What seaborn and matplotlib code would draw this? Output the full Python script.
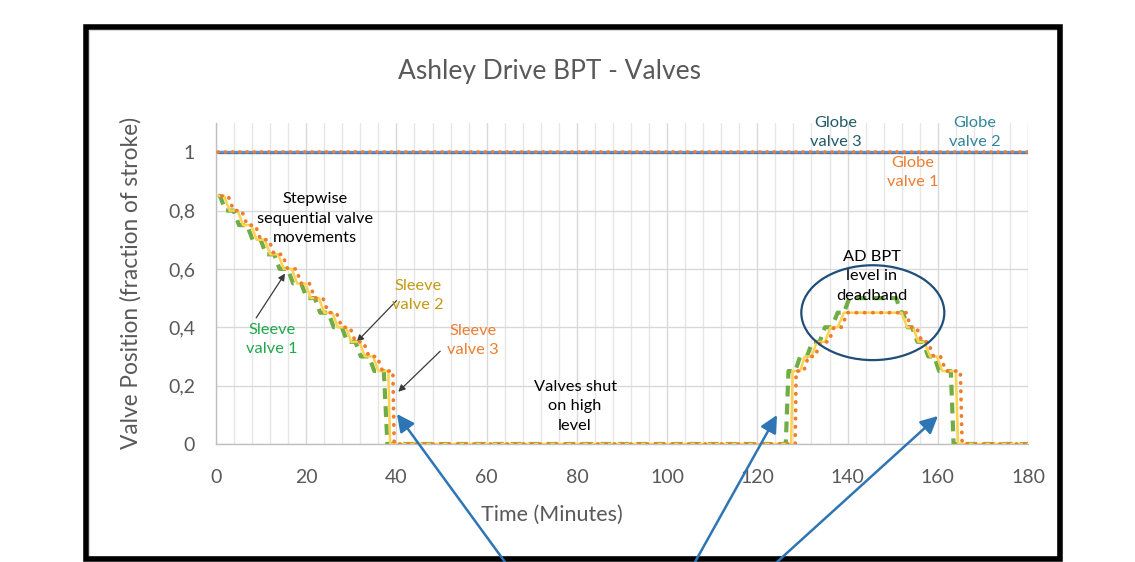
import matplotlib
matplotlib.use("Agg")
import matplotlib.pyplot as plt
import seaborn as sns
import pandas as pd
from matplotlib.patches import Ellipse, Rectangle, FancyArrowPatch
from matplotlib.ticker import MultipleLocator

# ---------------- data ----------------
globe_t = [0.5, 180]
globe1_v = [1.0, 1.0]
globe2_v = [1.0, 1.0]
globe3_v = [1.0, 1.0]

sleeve1_t = [0.5, 0.9, 2.1, 3.9, 5.1, 6.9, 8.1, 9.9, 11.1, 12.9, 14.1, 15.9, 17.1, 18.9,
             20.1, 21.9, 23.1, 24.9, 26.1, 27.9, 29.1, 30.9, 32.1, 33.9, 35.1, 37.2, 38.0,
             126.3, 126.9, 128.4, 129.5, 131.0, 132.2, 133.8, 135.0, 136.5, 137.8, 139.2,
             140.4, 150.8, 151.8, 152.3, 153.3, 154.3, 155.5, 156.7, 157.9, 159.2, 160.3,
             162.9, 163.5, 180]
sleeve1_v = [0.85, 0.85, 0.80, 0.80, 0.75, 0.75, 0.70, 0.70, 0.65, 0.65, 0.60, 0.60, 0.55, 0.55,
             0.50, 0.50, 0.45, 0.45, 0.40, 0.40, 0.35, 0.35, 0.30, 0.30, 0.25, 0.25, 0.0,
             0.0, 0.25, 0.25, 0.30, 0.30, 0.35, 0.35, 0.40, 0.40, 0.45, 0.45,
             0.50, 0.50, 0.45, 0.45, 0.40, 0.40, 0.35, 0.35, 0.30, 0.30, 0.25,
             0.25, 0.0, 0.0]

sleeve2_t = [0.5, 1.8, 3.0, 4.8, 6.0, 7.8, 9.0, 10.8, 12.0, 13.8, 15.0, 16.8, 18.0, 19.8,
             21.0, 22.8, 24.0, 25.8, 27.0, 28.8, 30.0, 31.8, 33.0, 34.8, 36.0, 38.2, 38.6,
             127.5, 127.8, 129.5, 130.5, 132.0, 133.2, 135.0, 136.2, 137.8, 139.2,
             152.0, 153.2, 154.5, 155.7, 157.0, 158.3, 159.8, 161.0, 164.0, 164.5, 180]
sleeve2_v = [0.85, 0.85, 0.80, 0.80, 0.75, 0.75, 0.70, 0.70, 0.65, 0.65, 0.60, 0.60, 0.55, 0.55,
             0.50, 0.50, 0.45, 0.45, 0.40, 0.40, 0.35, 0.35, 0.30, 0.30, 0.25, 0.25, 0.0,
             0.0, 0.25, 0.25, 0.30, 0.30, 0.35, 0.35, 0.40, 0.40, 0.45,
             0.45, 0.40, 0.40, 0.35, 0.35, 0.30, 0.30, 0.25, 0.25, 0.0, 0.0]

sleeve3_t = [1.3, 2.7, 3.9, 5.7, 6.9, 8.7, 9.9, 11.7, 12.9, 14.7, 15.9, 17.7, 18.9, 20.7,
             21.9, 23.7, 24.9, 26.7, 27.9, 29.7, 30.9, 32.7, 33.9, 35.7, 36.9, 39.2, 39.5,
             128.4, 128.6, 130.3, 131.3, 132.8, 134.0, 135.8, 137.0, 138.6, 140.0,
             153.0, 154.0, 155.3, 156.5, 157.8, 159.1, 160.6, 161.8, 165.0, 165.4, 180]
sleeve3_v = [0.85, 0.85, 0.80, 0.80, 0.75, 0.75, 0.70, 0.70, 0.65, 0.65, 0.60, 0.60, 0.55, 0.55,
             0.50, 0.50, 0.45, 0.45, 0.40, 0.40, 0.35, 0.35, 0.30, 0.30, 0.25, 0.25, 0.0,
             0.0, 0.25, 0.25, 0.30, 0.30, 0.35, 0.35, 0.40, 0.40, 0.45,
             0.45, 0.40, 0.40, 0.35, 0.35, 0.30, 0.30, 0.25, 0.25, 0.0, 0.0]

x_ticks = [0, 20, 40, 60, 80, 100, 120, 140, 160, 180]
y_ticks = [0, 0.2, 0.4, 0.6, 0.8, 1.0]
y_tick_labels = ["0", "0,2", "0,4", "0,6", "0,8", "1"]

title = "Ashley Drive BPT - Valves"
xlabel = "Time (Minutes)"
ylabel = "Valve Position (fraction of stroke)"

# ---------------- style ----------------
sns.set_theme(style="white")
FONT = ["Lato", "DejaVu Sans"]
plt.rcParams["font.family"] = FONT

GREEN = "#70AD47"
YELLOW = "#FFD24F"
ORANGE = "#ED7D31"
GRAY_TXT = "#595959"

W, H = 1135, 562
fig = plt.figure(figsize=(W / 100, H / 100), dpi=100)
ax = fig.add_axes([216 / W, 1 - 444 / H, (1028 - 216) / W, (444 - 123) / H])

def frame(t, v, name):
    return pd.DataFrame({"t": t, "v": v, "series": name})

# globe valves
sns.lineplot(data=frame(globe_t, globe3_v, "Globe valve 3"), x="t", y="v", ax=ax,
             color="#4472C4", lw=2.4, sort=False, estimator=None, zorder=3)
sns.lineplot(data=frame(globe_t, globe2_v, "Globe valve 2"), x="t", y="v", ax=ax,
             color="#5B9BD5", lw=1.2, sort=False, estimator=None, zorder=3)
sns.lineplot(data=frame(globe_t, globe1_v, "Globe valve 1"), x="t", y="v", ax=ax,
             color=ORANGE, lw=2.6, sort=False, estimator=None, zorder=4,
             linestyle=(0, (0.1, 1.9)), dash_capstyle="round")

# sleeve valves
sns.lineplot(data=frame(sleeve1_t, sleeve1_v, "Sleeve valve 1"), x="t", y="v", ax=ax,
             color=GREEN, lw=3.0, sort=False, estimator=None, zorder=3,
             linestyle=(0, (2.6, 1.7)))
sns.lineplot(data=frame(sleeve2_t, sleeve2_v, "Sleeve valve 2"), x="t", y="v", ax=ax,
             color=YELLOW, lw=1.8, sort=False, estimator=None, zorder=4)
sns.lineplot(data=frame(sleeve3_t, sleeve3_v, "Sleeve valve 3"), x="t", y="v", ax=ax,
             color=ORANGE, lw=2.7, sort=False, estimator=None, zorder=5,
             linestyle=(0, (0.1, 2.1)), dash_capstyle="round")

ax.set_xlim(0, 180)
ax.set_ylim(0, 1.1)
ax.set_xticks(x_ticks)
ax.set_yticks(y_ticks)
ax.set_yticklabels(y_tick_labels)
ax.xaxis.set_minor_locator(MultipleLocator(4))
ax.grid(which="major", axis="both", color="#d9d9d9", lw=1.0)
ax.grid(which="minor", axis="x", color="#e6e6e6", lw=1.0)
ax.set_axisbelow(True)
for s in ["top", "right"]:
    ax.spines[s].set_visible(False)
for s in ["left", "bottom"]:
    ax.spines[s].set_color("#bfbfbf")
    ax.spines[s].set_linewidth(1.0)
ax.tick_params(axis="both", which="both", length=0, labelsize=14, colors=GRAY_TXT)
ax.tick_params(axis="x", pad=18)
ax.tick_params(axis="y", pad=15)
ax.set_xlabel("")
ax.set_ylabel("")
if ax.get_legend():
    ax.get_legend().remove()

fig.text(550 / W, 1 - 72 / H, title, ha="center", va="center", fontsize=19, color=GRAY_TXT)
fig.text(552 / W, 1 - 515 / H, xlabel, ha="center", va="center", fontsize=15.5, color=GRAY_TXT)
fig.text(131 / W, 1 - 283 / H, ylabel, ha="center", va="center", rotation=90,
         fontsize=16.3, color=GRAY_TXT)

# annotations
def note(t, v, s, c):
    ax.text(t, v, s, ha="center", va="center", fontsize=11.8, color=c, linespacing=1.5,
            zorder=6)

note(21.9, 0.772, "Stepwise\nsequential valve\nmovements", "black")
note(12.4, 0.358, "Sleeve\nvalve 1", "#1FA84A")
note(44.8, 0.509, "Sleeve\nvalve 2", "#C39A12")
note(57.0, 0.354, "Sleeve\nvalve 3", ORANGE)
note(79.6, 0.130, "Valves shut\non high\nlevel", "black")
note(145.4, 0.575, "AD BPT\nlevel in\ndeadband", "black")
note(137.4, 1.067, "Globe\nvalve 3", "#215968")
note(168.3, 1.067, "Globe\nvalve 2", "#31859C")
note(154.5, 0.930, "Globe\nvalve 1", ORANGE)

small = dict(arrowstyle="-|>", color="#3a3a3a", lw=0.9, mutation_scale=10,
             shrinkA=0, shrinkB=0)
ax.annotate("", xy=(15.3, 0.584), xytext=(8.9, 0.432), arrowprops=small)
ax.annotate("", xy=(31.2, 0.350), xytext=(40.0, 0.491), arrowprops=small)
ax.annotate("", xy=(40.4, 0.179), xytext=(49.7, 0.318), arrowprops=small)

ax.add_patch(Ellipse((145.6, 0.450), 31.7, 0.325, fill=False, ec="#1F4E79", lw=1.6, zorder=7))

# big blue arrows in figure pixels
for (x0, y0), (x1, y1) in [((505, 562), (397, 414)), ((695, 562), (777, 415)),
                           ((777, 562), (938, 416))]:
    fig.add_artist(FancyArrowPatch((x0, H - y0), (x1, H - y1), transform=None,
                                   arrowstyle="-|>", mutation_scale=26, color="#2E75B6",
                                   lw=1.8, shrinkA=0, shrinkB=0, zorder=10))

# frames
fig.add_artist(Rectangle((89 / W, 1 - 556 / H), (1057 - 89) / W, (556 - 30) / H,
                         transform=fig.transFigure, fill=False, ec="#d9d9d9", lw=0.8))
fig.add_artist(Rectangle((86 / W, 1 - 559 / H), (1060 - 86) / W, (559 - 27) / H,
                         transform=fig.transFigure, fill=False, ec="black", lw=4))

fig.savefig("out.png", dpi=100)
